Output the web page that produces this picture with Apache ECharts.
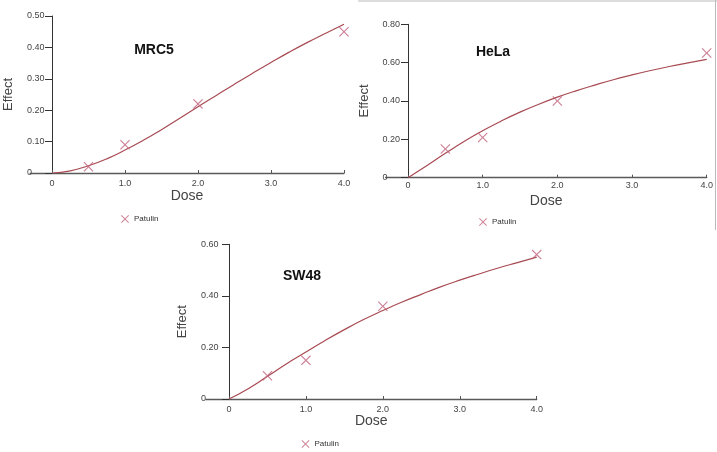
<!DOCTYPE html>
<html>
<head>
<meta charset="utf-8">
<script src="https://cdn.jsdelivr.net/npm/echarts@6/dist/echarts.min.js"></script>
<style>
html,body{margin:0;padding:0;background:#fff;}
#c{width:717px;height:452px;}
</style>
</head>
<body>
<div id="c"></div>
<script>
// ---- data ----
var doseLabels = ['0', '1.0', '2.0', '3.0', '4.0'];
var doseTicks = [0, 1, 2, 3, 4];
var obsDoses = [0.5, 1, 2, 4];
var mrc5Obs = [0.02, 0.09, 0.22, 0.45];
var helaObs = [0.15, 0.21, 0.40, 0.65];
var sw48Obs = [0.09, 0.15, 0.36, 0.56];
var curveDoses = [0, 0.25, 0.5, 0.75, 1, 1.25, 1.5, 1.75, 2, 2.25, 2.5, 2.75, 3, 3.25, 3.5, 3.75, 4];
var mrc5Curve = [0, 0.007, 0.023, 0.045, 0.073, 0.104, 0.138, 0.174, 0.211, 0.247, 0.283, 0.318, 0.352, 0.385, 0.416, 0.445, 0.474];
var helaCurve = [0, 0.062, 0.127, 0.189, 0.245, 0.296, 0.342, 0.383, 0.420, 0.453, 0.483, 0.511, 0.536, 0.559, 0.580, 0.599, 0.617];
var sw48Curve = [0, 0.040, 0.088, 0.137, 0.182, 0.227, 0.269, 0.308, 0.343, 0.376, 0.406, 0.435, 0.461, 0.485, 0.508, 0.529, 0.550];
var mrc5YLabels = ['0', '0.10', '0.20', '0.30', '0.40', '0.50'];
var helaYLabels = ['0', '0.20', '0.40', '0.60', '0.80'];
var sw48YLabels = ['0', '0.20', '0.40', '0.60'];
var panelTitles = ['MRC5', 'HeLa', 'SW48'];
var xTitle = 'Dose';
var yTitle = 'Effect';
var seriesName = 'Patulin';

// ---- styling / layout ----
var FONT = '"Liberation Sans", Arial, sans-serif';
var curveColor = '#a84a52';
var markColor = '#c0607a';
var xPath = 'path://M0,0.8L0.8,0L5,4.2L9.2,0L10,0.8L5.8,5L10,9.2L9.2,10L5,5.8L0.8,10L0,9.2L4.2,5Z';

function pairs(xs, ys) { return xs.map(function (x, i) { return [x, ys[i]]; }); }

var panels = [
  { grid: { left: 30.1, top: 16, width: 313.9, height: 157 }, yMax: 0.5, yInt: 0.1, yLabels: mrc5YLabels,
    obs: mrc5Obs, curve: mrc5Curve, yMargin: 3, xMargin: 6, xGap: 16, yName: [8.5, 94.5],
    legend: { left: 121, top: 215 }, title: [154, 50] },
  { grid: { left: 385.6, top: 24.3, width: 321.1, height: 153.4 }, yMax: 0.8, yInt: 0.2, yLabels: helaYLabels,
    obs: helaObs, curve: helaCurve, yMargin: 3, xMargin: 3, xGap: 16, yName: [364, 101],
    legend: { left: 479, top: 218 }, title: [493, 52] },
  { grid: { left: 205.9, top: 244.3, width: 330.8, height: 154.7 }, yMax: 0.6, yInt: 0.2, yLabels: sw48YLabels,
    obs: sw48Obs, curve: sw48Curve, yMargin: 5, xMargin: 6, xGap: 15, yName: [182, 321.7],
    legend: { left: 301.5, top: 440 }, title: [302, 276] }
];

var option = {
  animation: false,
  backgroundColor: '#fff',
  grid: [], xAxis: [], yAxis: [], series: [], legend: [], graphic: []
};

panels.forEach(function (p, i) {
  var g = Object.assign({ containLabel: false, outerBoundsMode: 'none' }, p.grid);
  option.grid.push(g);
  option.xAxis.push({
    type: 'value', gridIndex: i, min: -0.3, max: 4,
    name: xTitle, nameLocation: 'middle', nameGap: p.xGap, nameMoveOverlap: false,
    nameTextStyle: { fontFamily: FONT, fontSize: 14, color: '#444' },
    axisLine: { show: true, onZero: true, lineStyle: { color: '#5a5a5a', width: 1.3 } },
    axisTick: { show: true, inside: true, length: 3, customValues: doseTicks, lineStyle: { color: '#555' } },
    axisLabel: {
      customValues: doseTicks, margin: p.xMargin, fontFamily: FONT, fontSize: 9, color: '#444',
      formatter: function (v) { var k = doseTicks.indexOf(Math.round(v)); return k >= 0 ? doseLabels[k] : ''; }
    },
    splitLine: { show: false }
  });
  option.yAxis.push({
    type: 'value', gridIndex: i, min: 0, max: p.yMax, interval: p.yInt,
    axisLine: { show: true, onZero: true, lineStyle: { color: '#333', width: 1 } },
    axisTick: { show: true, inside: false, length: 7, lineStyle: { color: '#333' } },
    axisLabel: {
      margin: p.yMargin, align: 'left', padding: [0, 0, 5, 0], fontFamily: FONT, fontSize: 9, color: '#444',
      formatter: (function (labels, step) {
        return function (v) { var k = Math.round(v / step); return labels[k] !== undefined ? labels[k] : ''; };
      })(p.yLabels, p.yInt)
    },
    splitLine: { show: false }
  });
  option.series.push({
    name: 'fit' + i, type: 'line', xAxisIndex: i, yAxisIndex: i, smooth: true,
    data: pairs(curveDoses, p.curve), showSymbol: false, symbol: 'none',
    lineStyle: { color: curveColor, width: 1.2 }, z: 2, silent: true
  });
  option.series.push({
    name: seriesName, type: 'scatter', xAxisIndex: i, yAxisIndex: i,
    data: pairs(obsDoses, p.obs), symbol: xPath, symbolSize: 10,
    itemStyle: { color: markColor }, z: 3
  });
  option.legend.push({
    left: p.legend.left, top: p.legend.top, padding: 0, itemWidth: 8, itemHeight: 8,
    data: [{ name: seriesName, icon: xPath, itemStyle: { color: markColor } }],
    textStyle: { fontFamily: FONT, fontSize: 8, color: '#333' }
  });
  option.graphic.push({
    type: 'text', x: p.title[0], y: p.title[1], z: 10,
    style: { text: panelTitles[i], textAlign: 'center', textVerticalAlign: 'middle',
             font: 'bold 14px ' + FONT, fill: '#111' }
  });
  option.graphic.push({
    type: 'text', x: p.yName[0], y: p.yName[1], rotation: Math.PI / 2, z: 10,
    style: { text: yTitle, textAlign: 'center', textVerticalAlign: 'middle',
             font: '13px ' + FONT, fill: '#444' }
  });
});

// thin grey frame around the HeLa picture (top and right edges)
option.graphic.push({ type: 'line', shape: { x1: 358, y1: 1, x2: 717, y2: 1 }, style: { stroke: '#bbb', lineWidth: 1 } });
option.graphic.push({ type: 'line', shape: { x1: 715.5, y1: 0, x2: 715.5, y2: 230 }, style: { stroke: '#bbb', lineWidth: 1 } });

var chart = echarts.init(document.getElementById('c'), null, { renderer: 'canvas' });
chart.setOption(option);
</script>
</body>
</html>
